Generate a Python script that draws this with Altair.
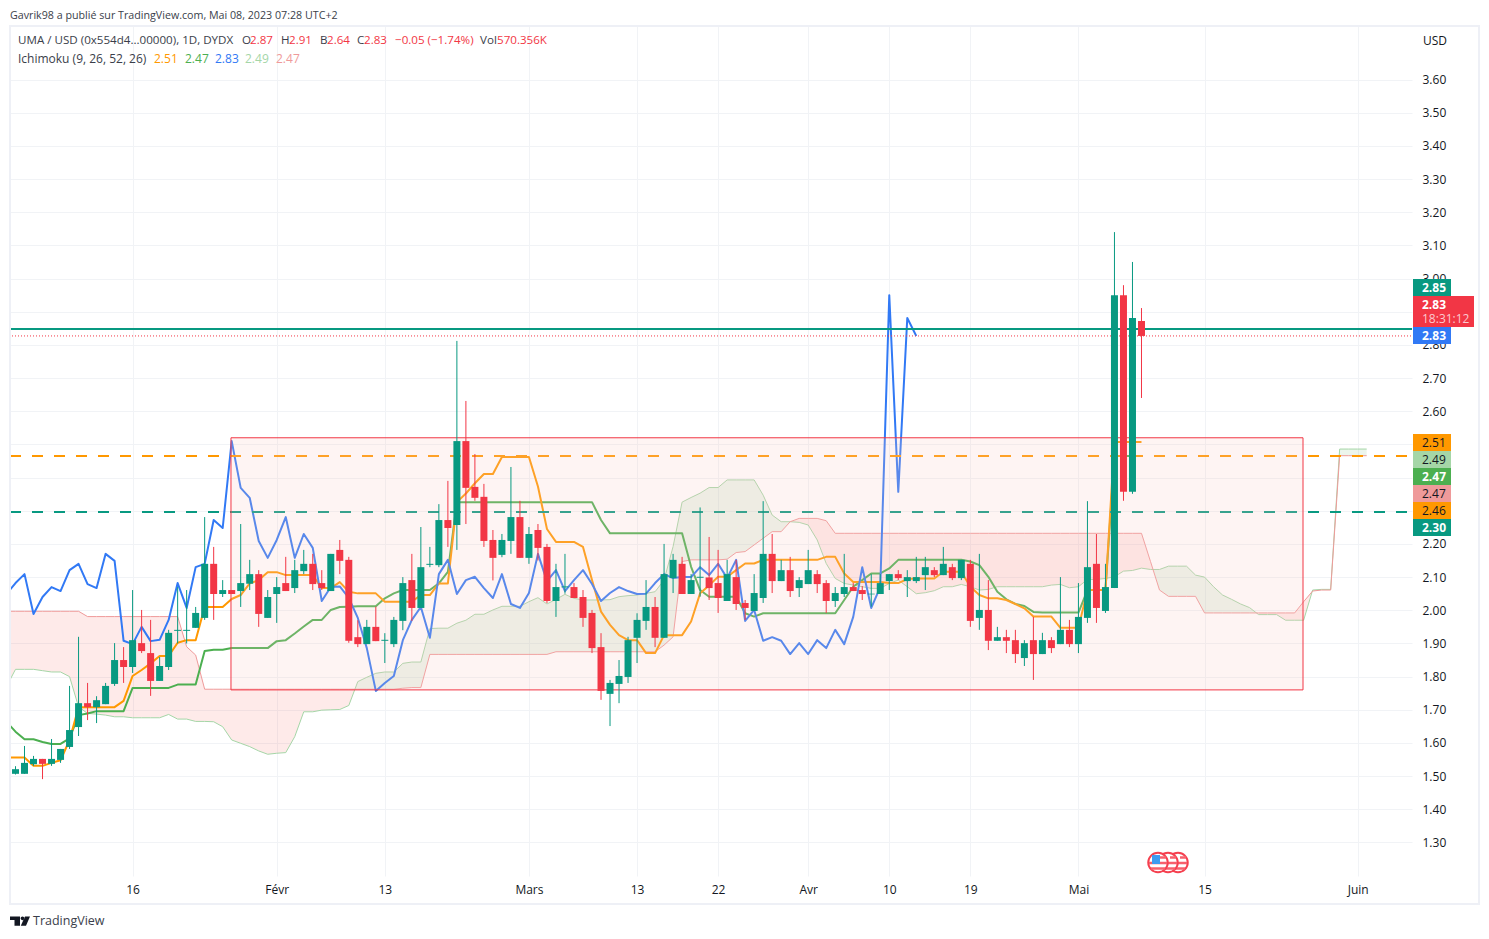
import json
import altair as alt
import pandas as pd

# --- candles (day index 0 .. 125) -------------------------------------------------
opens = [1.507,1.507,1.536,1.552,1.537,1.549,1.588,1.648,1.720,1.708,1.717,1.778,1.850,1.829,1.901,1.871,1.787,1.829,1.938,1.938,
 1.947,1.977,2.140,2.049,2.061,2.058,2.080,2.109,1.977,2.049,2.082,2.067,2.118,2.140,2.082,2.058,2.182,2.152,1.919,1.898,
 1.950,1.908,1.898,1.968,2.091,2.007,2.137,2.136,2.272,2.257,2.510,2.372,2.342,2.212,2.167,2.209,2.281,2.158,2.242,2.191,
 2.028,2.069,2.070,2.040,1.992,1.889,1.748,1.778,1.799,1.917,1.968,2.010,1.917,2.097,2.140,2.049,2.098,2.099,2.082,2.028,
 2.100,2.022,1.998,2.037,2.170,2.088,2.121,2.067,2.079,2.109,2.082,2.028,2.049,2.070,2.061,2.048,2.049,2.088,2.109,2.088,
 2.088,2.106,2.121,2.106,2.130,2.097,2.140,1.977,2.001,1.908,1.919,1.910,1.856,1.910,1.868,1.910,1.898,1.941,1.898,1.977,
 2.140,1.998,2.067,2.950,2.357,2.872]
closes = [1.521,1.540,1.552,1.537,1.552,1.582,1.639,1.720,1.708,1.729,1.772,1.850,1.829,1.910,1.877,1.787,1.832,1.932,1.941,1.941,
 1.992,2.140,2.049,2.061,2.049,2.082,2.109,1.989,2.040,2.070,2.058,2.121,2.140,2.079,2.067,2.170,2.149,1.908,1.898,1.950,
 1.907,1.911,1.971,2.082,2.007,2.130,2.140,2.272,2.248,2.510,2.369,2.339,2.209,2.158,2.212,2.281,2.158,2.230,2.188,2.028,
 2.070,2.072,2.037,1.977,1.886,1.757,1.781,1.802,1.910,1.971,2.010,1.917,2.109,2.152,2.049,2.091,2.101,2.067,2.037,2.109,
 2.019,2.007,2.052,2.170,2.088,2.121,2.058,2.091,2.121,2.079,2.028,2.052,2.070,2.058,2.049,2.050,2.082,2.109,2.097,2.100,
 2.100,2.130,2.106,2.140,2.097,2.152,1.968,2.001,1.908,1.919,1.908,1.868,1.901,1.868,1.910,1.886,1.941,1.898,1.980,2.130,
 2.007,2.070,2.950,2.357,2.881,2.827]
highs = [1.530,1.591,1.561,1.552,1.612,1.582,1.772,1.920,1.781,1.741,1.781,1.901,1.889,2.061,2.001,1.971,1.859,1.941,2.070,2.061,
 2.010,2.281,2.191,2.091,2.061,2.260,2.152,2.121,2.061,2.100,2.161,2.152,2.182,2.170,2.121,2.170,2.212,2.161,1.970,1.971,
 2.011,1.931,1.980,2.100,2.170,2.251,2.191,2.320,2.390,2.812,2.631,2.471,2.381,2.242,2.230,2.432,2.330,2.251,2.260,2.200,
 2.140,2.170,2.082,2.061,2.001,1.931,1.790,1.850,1.920,1.991,2.091,2.040,2.200,2.170,2.161,2.109,2.310,2.221,2.182,2.152,
 2.152,2.031,2.109,2.329,2.230,2.152,2.161,2.100,2.182,2.121,2.091,2.070,2.170,2.082,2.073,2.109,2.109,2.109,2.121,2.121,
 2.161,2.161,2.130,2.191,2.140,2.152,2.152,2.170,2.091,1.950,1.941,1.941,1.910,1.980,1.932,1.919,2.100,1.971,2.082,2.329,
 2.230,2.140,3.140,2.980,3.050,2.911]
lows = [1.505,1.507,1.531,1.491,1.531,1.540,1.582,1.621,1.669,1.660,1.717,1.772,1.781,1.811,1.871,1.742,1.787,1.820,1.900,1.900,
 1.947,1.971,1.971,2.040,2.049,2.010,2.061,1.950,1.977,1.962,2.058,2.052,2.109,2.061,2.061,2.058,2.109,1.902,1.889,1.898,
 1.907,1.841,1.889,1.940,1.968,2.007,2.130,2.130,2.191,2.182,2.260,2.330,2.191,2.090,2.160,2.170,2.158,2.140,2.150,2.022,
 1.980,2.050,2.037,1.950,1.871,1.730,1.651,1.720,1.781,1.841,1.941,1.889,1.917,2.052,2.049,2.049,2.041,2.031,1.992,2.028,
 2.001,1.971,1.998,2.022,2.052,2.088,2.040,2.040,2.079,2.052,1.992,2.010,2.040,2.058,2.031,2.011,2.049,2.061,2.091,2.040,
 2.082,2.061,2.100,2.106,2.091,2.091,1.950,1.941,1.880,1.908,1.871,1.841,1.832,1.790,1.868,1.871,1.898,1.889,1.871,1.962,
 1.962,1.992,2.067,2.330,2.351,2.640]

# --- Ichimoku (first value belongs to day -1) -------------------------------------
tenkan = [1.556,1.556,1.556,1.531,1.531,1.540,1.548,1.609,1.708,1.708,1.708,
 1.708,1.708,1.727,1.802,1.820,1.840,1.862,1.862,1.902,1.910,
 1.910,2.010,2.010,2.010,2.034,2.046,2.081,2.091,2.115,2.115,
 2.106,2.106,2.106,2.106,2.067,2.067,2.085,2.056,2.051,2.051,
 2.051,2.026,2.026,2.026,2.026,2.046,2.046,2.081,2.081,2.326,
 2.352,2.383,2.411,2.411,2.462,2.462,2.462,2.462,2.373,2.245,
 2.206,2.206,2.206,2.191,2.091,1.996,1.956,1.925,1.910,1.910,
 1.871,1.871,1.925,1.925,1.925,1.966,2.051,2.075,2.101,2.101,
 2.121,2.141,2.141,2.152,2.152,2.152,2.152,2.152,2.152,2.152,2.161,2.161,2.111,2.085,
 2.085,2.085,2.085,2.082,2.082,2.094,2.096,2.096,2.096,2.116,
 2.116,2.116,2.071,2.046,2.036,2.036,2.031,2.019,2.006,1.981,
 1.981,1.981,1.947,1.947,1.947,2.061,2.061,2.061,2.507,2.507,2.507,2.507]
kijun = [1.664,1.634,1.611,1.611,1.603,1.597,1.597,1.614,1.684,1.689,1.696,
 1.696,1.696,1.696,1.766,1.766,1.766,1.766,1.766,1.776,1.776,
 1.776,1.877,1.881,1.881,1.886,1.886,1.886,1.886,1.886,1.907,
 1.910,1.930,1.951,1.971,1.971,2.001,2.010,2.011,2.012,2.012,
 2.012,2.036,2.051,2.061,2.061,2.061,2.061,2.081,2.116,2.326,
 2.326,2.326,2.326,2.326,2.326,2.326,2.326,2.326,2.326,2.326,2.326,2.326,2.326,2.326,2.326,
 2.272,2.232,2.232,2.232,2.232,2.232,2.232,2.232,2.232,2.232,
 2.131,2.061,2.041,2.041,2.041,2.041,1.991,1.981,1.991,
 1.991,1.991,1.991,1.991,1.991,1.991,1.991,1.991,
 2.031,2.071,2.091,2.111,2.111,2.126,2.152,
 2.152,2.152,2.152,2.152,2.152,2.152,2.152,
 2.147,2.136,2.101,2.056,2.033,2.019,2.013,1.995,
 1.993,1.993,1.993,1.993,1.993,2.061,2.061,2.061,2.465,2.465,2.465,2.465]
chikou = [2.049,2.082,2.109,1.989,2.040,2.070,2.058,2.121,2.140,2.079,2.067,2.170,2.149,1.908,1.898,1.950,1.907,1.911,1.971,2.082,
 2.007,2.130,2.140,2.272,2.248,2.510,2.369,2.339,2.209,2.158,2.212,2.281,2.158,2.230,2.188,2.028,2.070,2.072,2.037,1.977,
 1.886,1.757,1.781,1.802,1.910,1.971,2.010,1.917,2.109,2.152,2.049,2.091,2.101,2.067,2.037,2.109,2.019,2.007,2.052,2.170,
 2.088,2.121,2.058,2.091,2.121,2.079,2.028,2.052,2.070,2.058,2.049,2.050,2.082,2.109,2.097,2.100,2.100,2.130,2.106,2.140,
 2.097,2.152,1.968,2.001,1.908,1.919,1.908,1.868,1.901,1.868,1.910,1.886,1.941,1.898,1.980,2.130,2.007,2.070,2.950,2.357,
 2.881,2.827]
span_a = [1.770,1.822,1.822,1.822,1.818,1.814,1.814,1.800,1.709,1.689,1.687,
 1.684,1.679,1.679,1.676,1.676,1.676,1.676,1.686,1.672,1.672,
 1.665,1.665,1.664,1.649,1.609,1.599,1.589,1.576,1.566,1.569,
 1.571,1.619,1.694,1.694,1.699,1.700,1.701,1.713,1.785,1.798,
 1.810,1.814,1.814,1.840,1.844,1.844,1.945,1.946,1.946,1.961,
 1.970,1.988,1.988,2.001,2.012,2.012,2.012,2.026,2.038,2.019,
 2.033,2.048,2.036,2.031,2.031,2.031,2.032,2.041,2.044,2.046,
 2.051,2.056,2.091,2.192,2.326,2.340,2.353,2.370,2.370,2.393,
 2.393,2.393,2.393,2.347,2.287,2.267,2.267,2.265,2.257,2.212,
 2.141,2.096,2.081,2.076,2.071,2.066,2.066,2.081,2.091,2.071,
 2.050,2.053,2.059,2.071,2.071,2.078,2.071,2.061,2.063,2.071,
 2.071,2.071,2.071,2.071,2.071,2.076,2.078,2.068,2.071,2.093,
 2.093,2.096,2.101,2.118,2.120,2.127,2.123,2.123,2.133,2.133,
 2.133,2.106,2.100,2.071,2.046,2.033,2.019,2.008,1.987,1.987,
 1.987,1.970,1.970,1.970,2.061,2.063,2.063,2.486,2.486,2.486,2.486]
span_b = ([1.997]*9 + [1.981]*11 + [1.890,1.865] + [1.762]*22 + [1.765,1.767,1.767] + [1.867]*14 + [1.875]*12
 + [1.895,1.920,2.147] + [2.152]*4 + [2.154,2.174,2.177,2.197,2.217,2.237,2.237,2.267,2.277,2.277,2.277,2.270]
 + [2.232]*35 + [2.147,2.061] + [2.042]*4 + [1.992]*11 + [2.026,2.058,2.061,2.061] + [2.466]*4)

# --- annotations ------------------------------------------------------------------
box_days = [23.92, 142.93]
box_prices = [1.76, 2.52]
level_solid = 2.848
level_orange = 2.465
level_green = 2.296
last_price = 2.827

y_ticks = [1.3,1.4,1.5,1.6,1.7,1.8,1.9,2.0,2.1,2.2,2.3,2.4,2.5,2.6,2.7,2.8,2.9,3.0,3.1,3.2,3.3,3.4,3.5,3.6]
x_ticks = [13,29,41,57,69,78,88,97,106,118,132,149]
x_labels = ["16","Févr","13","Mars","13","22","Avr","10","19","Mai","15","Juin"]

GREEN, RED, BLUE = "#089981", "#F23645", "#3179F5"
ORANGE, KIJUN, SPANA, SPANB = "#FF9800", "#4CAF50", "#A5D6A7", "#EF9A9A"
GRID, FRAME, INK = "#F1F3F6", "#EEF0F6", "#131722"
FONT = "Open Sans"
OX, OY = 10, 26   # plot origin on the page

# --- scales and axes ---------------------------------------------------------------
xs = alt.Scale(domain=[-0.6106, 155.03], nice=False, zero=False)
ys = alt.Scale(domain=[1.199, 3.7613], nice=False, zero=False)
axis_x = alt.Axis(values=x_ticks, grid=True, gridColor=GRID, gridWidth=1, domain=False, ticks=False,
                  title=None, labelColor=INK, labelFont=FONT, labelFontSize=12, labelPadding=8,
                  labelOverlap=False, labelFlush=False,
                  labelExpr=json.dumps({str(k): v for k, v in zip(x_ticks, x_labels)}) + "[datum.value]")
axis_y = alt.Axis(values=y_ticks, orient="right", grid=True, gridColor=GRID, gridWidth=1, domain=False, ticks=False,
                  title=None, labelColor=INK, labelFont=FONT, labelFontSize=12, labelPadding=10,
                  format=".2f", labelOverlap=False, labelFlush=False)
X = lambda f: alt.X(f, type="quantitative", scale=xs, axis=axis_x)
Y = lambda f: alt.Y(f, type="quantitative", scale=ys, axis=axis_y)

# --- tables ------------------------------------------------------------------------
assert len(opens) == len(closes) == len(highs) == len(lows) == 126
assert len(tenkan) == len(kijun) == 127 and len(chikou) == 102
assert len(span_a) == len(span_b) == 152

candles = pd.DataFrame({"i": range(126), "o": opens, "c": closes, "h": highs, "l": lows})
candles["col"] = [GREEN if c >= o else RED for o, c in zip(opens, closes)]
line_t = pd.DataFrame({"i": range(-1, 126), "v": tenkan})
line_k = pd.DataFrame({"i": range(-1, 126), "v": kijun})
line_c = pd.DataFrame({"i": range(-1, 101), "v": chikou})
line_a = pd.DataFrame({"i": range(-1, 151), "v": span_a})
line_b = pd.DataFrame({"i": range(-1, 151), "v": span_b})

rows = []
for k in range(len(span_a)):
    a, b = span_a[k], span_b[k]
    rows.append((k - 1, a, b))
    if k + 1 < len(span_a):
        d0, d1 = a - b, span_a[k + 1] - span_b[k + 1]
        if d0 * d1 < 0:
            t = d0 / (d0 - d1)
            v = a + t * (span_a[k + 1] - a)
            rows.append((k - 1 + t, v, v))
cloud = pd.DataFrame(rows, columns=["i", "a", "b"])
cloud["top"] = cloud[["a", "b"]].max(axis=1)

# --- layers ------------------------------------------------------------------------
layers = []
layers.append(alt.Chart(cloud).mark_area(color="#43A047", opacity=0.1, clip=True).encode(
    x=X("i"), y=Y("top"), y2="b:Q"))
layers.append(alt.Chart(cloud).mark_area(color="#F44336", opacity=0.11, clip=True).encode(
    x=X("i"), y=Y("top"), y2="a:Q"))


def line(df, color, w):
    return alt.Chart(df).mark_line(color=color, strokeWidth=w, clip=True, strokeJoin="round").encode(x=X("i"), y=Y("v"))


layers += [line(line_a, SPANA, 1), line(line_b, SPANB, 1), line(line_k, KIJUN, 2), line(line_t, ORANGE, 2), line(line_c, BLUE, 2)]


def hrule(p, color, w, dash=None):
    kw = {"strokeDash": dash, "strokeDashOffset": 17} if dash else {}
    return alt.Chart(pd.DataFrame({"p": [p]})).mark_rule(color=color, strokeWidth=w, **kw).encode(y=Y("p"))


layers += [hrule(level_orange, ORANGE, 2, [11, 11]), hrule(level_green, GREEN, 2, [11, 11]),
           hrule(last_price, RED, 1, [1, 2]), hrule(level_solid, GREEN, 2)]

layers.append(alt.Chart(pd.DataFrame({"a": [box_days[0]], "b": [box_days[1]], "p": [box_prices[0]], "q": [box_prices[1]]}))
              .mark_rect(fill="#FAC8C3", fillOpacity=0.2, stroke=RED, strokeWidth=1)
              .encode(x=X("a"), x2="b:Q", y=Y("p"), y2="q:Q"))

layers.append(alt.Chart(candles).mark_rule(strokeWidth=1).encode(
    x=X("i"), y=Y("l"), y2="h:Q", color=alt.Color("col:N", scale=None)))
layers.append(alt.Chart(candles).mark_rule(strokeWidth=7).encode(
    x=X("i"), y=Y("o"), y2="c:Q", color=alt.Color("col:N", scale=None)))

ONE = alt.Data(values=[{}])


def text(s, x, y, color=INK, size=12, bold=False, align="left"):
    return alt.Chart(ONE).mark_text(text=s, font=FONT, fontSize=size, color=color, align=align, baseline="middle",
                                    fontWeight="bold" if bold else "normal").encode(
        x=alt.value(x - OX), y=alt.value(y - OY))


def rect(x0, x1, y0, y1, color, **kw):
    return alt.Chart(ONE).mark_rect(color=color, **kw).encode(
        x=alt.value(x0 - OX), x2=alt.value(x1 - OX), y=alt.value(y0 - OY), y2=alt.value(y1 - OY))


# frame
layers.append(alt.Chart(ONE).mark_rect(fillOpacity=0, stroke=FRAME, strokeWidth=2).encode(
    x=alt.value(0), x2=alt.value(1469), y=alt.value(0), y2=alt.value(878)))

# earnings icon
for cx in [1178, 1168, 1158]:
    layers.append(alt.Chart(ONE).mark_point(filled=True, fill="white", stroke="#F5404F", strokeWidth=2, size=380, opacity=1)
                  .encode(x=alt.value(cx - OX), y=alt.value(862.5 - OY)))
    for y, a, b in [(857.5, 2, 8), (863, -9, 9), (868.5, -7, 7)]:
        layers.append(alt.Chart(ONE).mark_rule(color="#F7606C", strokeWidth=2.5).encode(
            x=alt.value(cx + a - OX), x2=alt.value(cx + b - OX), y=alt.value(y - OY)))
    if cx == 1158:
        layers.append(rect(1152, 1160, 855, 864, "#3E9BF0"))

# header texts
head = [("UMA / USD (0x554d4...00000), 1D, DYDX", 18, 41, "#3a3e4a"),
        ("O", 242, 41, "#3a3e4a"), ("2.87", 250, 41, RED),
        ("H", 281, 41, "#3a3e4a"), ("2.91", 289, 41, RED),
        ("B", 320, 41, "#3a3e4a"), ("2.64", 327, 41, RED),
        ("C", 357, 41, "#3a3e4a"), ("2.83", 364, 41, RED),
        ("−0.05 (−1.74%)", 395, 41, RED),
        ("Vol", 480, 41, "#3a3e4a"), ("570.356K", 497, 41, RED),
        ("Ichimoku (9, 26, 52, 26)", 18, 58.5, "#3a3e4a"),
        ("2.51", 154, 58.5, ORANGE), ("2.47", 185, 58.5, KIJUN), ("2.83", 215, 58.5, BLUE),
        ("2.49", 245, 58.5, SPANA), ("2.47", 276, 58.5, SPANB),
        ("USD", 1423, 41, INK)]
layers.append(text("Gavrik98 a publié sur TradingView.com, Mai 08, 2023 07:28 UTC+2", 10, 15.5, "#3a3e4a", 10.7))
for s, x, y, c in head:
    layers.append(text(s, x, y, c, 12 if (y > 50 or x > 1000) else 11.6))

# price tags
tags = [("2.85", GREEN, "white", True, 279, 296), ("2.51", ORANGE, INK, False, 434, 451),
        ("2.49", SPANA, INK, False, 451, 468), ("2.47", KIJUN, "white", True, 468, 485),
        ("2.47", SPANB, INK, False, 485, 502), ("2.46", ORANGE, INK, False, 502, 519),
        ("2.30", GREEN, "white", True, 519, 536), ("2.83", BLUE, "white", True, 327, 344)]
layers.append(rect(1413, 1474, 296, 327, RED))
layers.append(text("2.83", 1422, 304.5, "white", 12, True))
layers.append(text("18:31:12", 1422, 319, "#FBC9CE", 12))
for s, col, tc, b, y0, y1 in tags:
    layers.append(rect(1413, 1451, y0, y1, col))
    layers.append(text(s, 1422, (y0 + y1) / 2, tc, 12, b))

# footer
logo = ("M-1,-.46 L0,-.46 L0,.47 L-.55,.47 L-.55,-.09 L-1,-.09 Z "
        "M.06,-.27 a.19,.19 0 1,0 .38,0 a.19,.19 0 1,0 -.38,0 Z "
        "M.5,-.46 L1,-.46 L.6,.47 L.08,.47 Z")
layers.append(alt.Chart(ONE).mark_point(shape=logo, filled=True, color="#131722", size=400, opacity=1).encode(
    x=alt.value(20 - OX), y=alt.value(921 - OY)))
layers.append(text("TradingView", 33, 921, "#3a3e4a", 12.5))

chart = alt.layer(*layers).properties(
    width=1402, height=850, background="white",
    padding={"left": 2, "top": 18, "right": 69, "bottom": 54},
    autosize=alt.AutoSizeParams(type="none"),
).configure_view(stroke=None)

chart.save("out.html", embed_options={"renderer": "svg", "actions": False})
